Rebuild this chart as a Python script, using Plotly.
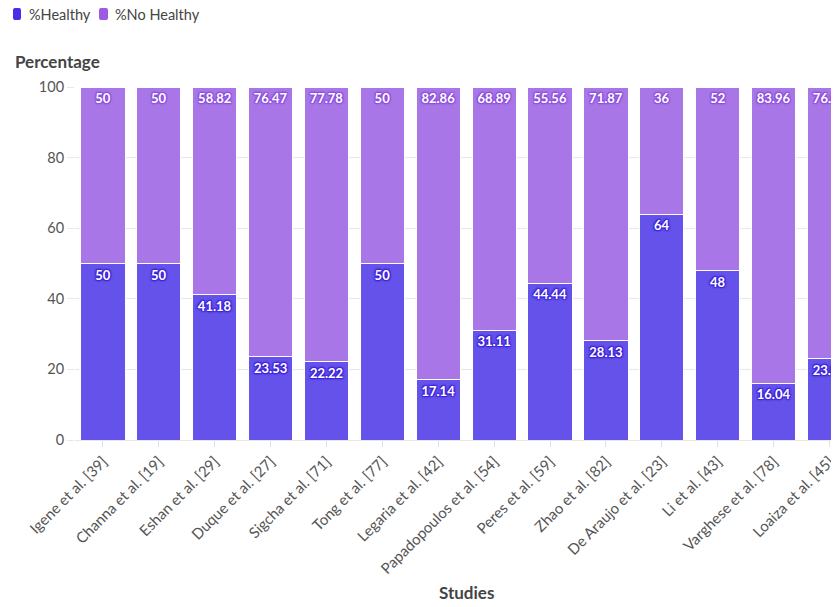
import plotly.graph_objects as go

studies = ["Igene et al. [39]", "Channa et al. [19]", "Eshan et al. [29]", "Duque et al. [27]",
           "Sigcha et al. [71]", "Tong et al. [77]", "Legaria et al. [42]", "Papadopoulos et al. [54]",
           "Peres et al. [59]", "Zhao et al. [82]", "De Araujo et al. [23]", "Li et al. [43]",
           "Varghese et al. [78]", "Loaiza et al. [45]"]
healthy = [50, 50, 41.18, 23.53, 22.22, 50, 17.14, 31.11, 44.44, 28.13, 64, 48, 16.04, 23.08]
no_healthy = [50, 50, 58.82, 76.47, 77.78, 50, 82.86, 68.89, 55.56, 71.87, 36, 52, 83.96, 76.92]
y_ticks = [0, 20, 40, 60, 80, 100]

FONT = "Lato, 'Source Sans Pro', 'Noto Sans', sans-serif"
C_H_LEG, C_H_BAR = "#4a2ce8", "#6452ea"
C_N_LEG, C_N_BAR = "#9b5ce3", "#a976e8"

# figure geometry (the page adds an 8px body margin)
W, H = 831, 591
ML, MR, MT, MB = 67, 0, 79, 159
PW, PH = W - ML - MR, H - MT - MB


def px(fx):
    return (fx - ML) / PW


def py(fy):
    return (H - MB - fy) / PH


def halo(c):
    return ", ".join(f"{a}px {b}px 1.5px {c}" for a, b in [(1, 1), (-1, -1), (1, -1), (-1, 1)])


def fmt(v):
    return f"{v:g}"


def rounded_rect(x0, y0, x1, y1, r=2):
    X = lambda v: px(v)
    Y = lambda v: py(v)
    return (f"M {X(x0 + r)},{Y(y0)} L {X(x1 - r)},{Y(y0)} Q {X(x1)},{Y(y0)} {X(x1)},{Y(y0 + r)} "
            f"L {X(x1)},{Y(y1 - r)} Q {X(x1)},{Y(y1)} {X(x1 - r)},{Y(y1)} "
            f"L {X(x0 + r)},{Y(y1)} Q {X(x0)},{Y(y1)} {X(x0)},{Y(y1 - r)} "
            f"L {X(x0)},{Y(y0 + r)} Q {X(x0)},{Y(y0)} {X(x0 + r)},{Y(y0)} Z")


fig = go.Figure()
fig.add_trace(go.Bar(
    x=studies, y=healthy, name="%Healthy", showlegend=False,
    marker=dict(color=C_H_BAR, line=dict(color="white", width=1)),
    text=[fmt(v) for v in healthy], textposition="inside", insidetextanchor="end",
    textangle=0, constraintext="none",
    textfont=dict(family=FONT, size=13, color="white", weight="bold", shadow=halo("#3a1fd6")),
    hoverinfo="x+y"))
fig.add_trace(go.Bar(
    x=studies, y=no_healthy, name="%No Healthy", showlegend=False,
    marker=dict(color=C_N_BAR, line=dict(color="white", width=1)),
    text=[fmt(v) for v in no_healthy], textposition="inside", insidetextanchor="end",
    textangle=0, constraintext="none",
    textfont=dict(family=FONT, size=13, color="white", weight="bold", shadow=halo("#8a4cdc")),
    hoverinfo="x+y"))

shapes = [
    dict(type="path", xref="paper", yref="paper", path=rounded_rect(5, 0, 13, 12),
         fillcolor=C_H_LEG, line=dict(width=0)),
    dict(type="path", xref="paper", yref="paper", path=rounded_rect(91, 0, 100, 12),
         fillcolor=C_N_LEG, line=dict(width=0)),
]
annotations = [
    dict(text="%Healthy", xref="paper", yref="paper", x=px(19), y=py(6),
         xanchor="left", yanchor="middle", showarrow=False, font=dict(size=14.5, color="#444444")),
    dict(text="%No Healthy", xref="paper", yref="paper", x=px(105), y=py(6),
         xanchor="left", yanchor="middle", showarrow=False, font=dict(size=14.5, color="#444444")),
    dict(text="<b>Percentage</b>", xref="paper", yref="paper", x=px(5), y=py(54),
         xanchor="left", yanchor="middle", showarrow=False, font=dict(size=17, color="#444444")),
    dict(text="<b>Studies</b>", xref="paper", yref="paper", x=px(458), y=py(584),
         xanchor="center", yanchor="middle", showarrow=False, font=dict(size=17, color="#444444")),
]

fig.update_layout(
    width=W, height=H,
    margin=dict(l=ML, r=MR, t=MT, b=MB, autoexpand=False),
    barmode="stack", bargap=0.21, showlegend=False,
    plot_bgcolor="white", paper_bgcolor="white",
    font=dict(family=FONT, size=14, color="#555555"),
    xaxis=dict(range=[-0.5, 13.17], showgrid=False, tickangle=-45, automargin=False,
               ticks="outside", ticklen=6, tickcolor="#e0e0e0",
               showline=False, zeroline=False,
               tickfont=dict(size=15, color="#555555")),
    yaxis=dict(range=[0, 100], tickvals=y_ticks, showgrid=True, gridcolor="#e8e8e8",
               ticks="outside", ticklen=7, tickcolor="#e8e8e8", automargin=False,
               zeroline=True, zerolinecolor="#e8e8e8", zerolinewidth=1,
               tickfont=dict(size=14.5, color="#555555")),
    shapes=shapes,
    annotations=annotations,
)
fig.write_html("out.html")
